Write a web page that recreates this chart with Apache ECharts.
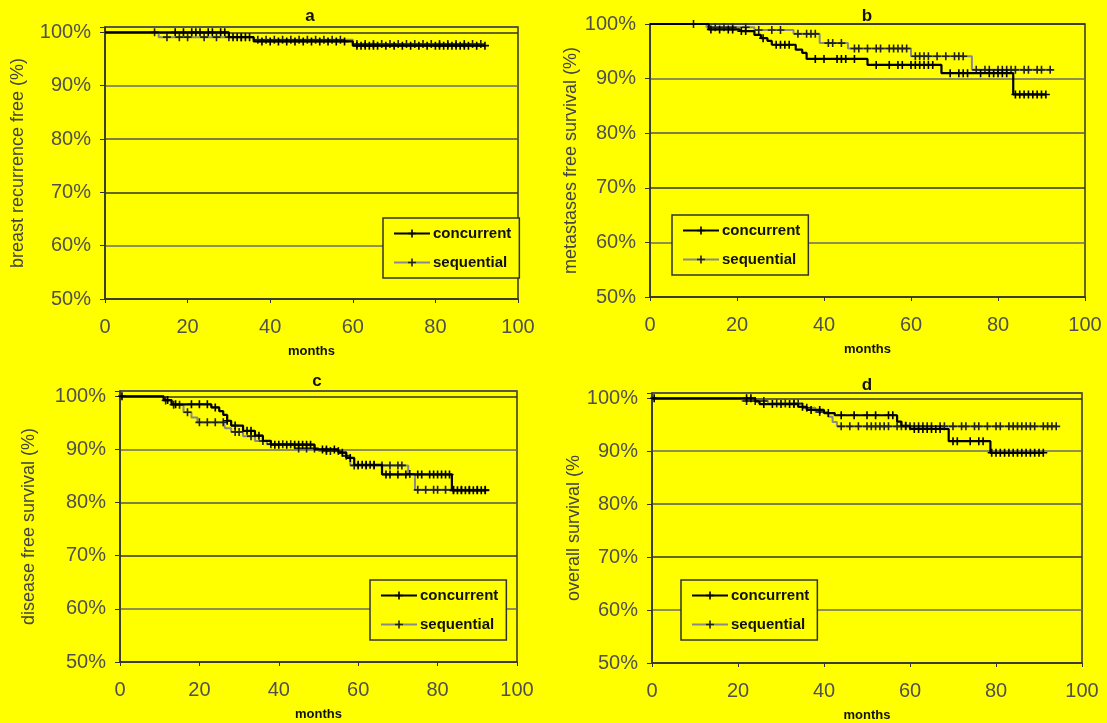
<!DOCTYPE html>
<html>
<head>
<meta charset="utf-8">
<script src="https://cdn.jsdelivr.net/npm/echarts@6/dist/echarts.min.js"></script>
<style>
  html, body { margin: 0; padding: 0; background: #ffff00; }
  #main { width: 1107px; height: 723px; }
</style>
</head>
<body>
<div id="main"></div>
<script>
// panel titles and axis names
const panelTitles = ['a', 'b', 'c', 'd'];
const yNames = ['breast recurrence free (%)', 'metastases free survival (%)', 'disease free survival (%)', 'overall survival (%'];
const groupNames = ['concurrent', 'sequential'];

// Kaplan-Meier steps: [month, % free] at each event
const aConcSteps = [[0, 100], [30, 99.1], [36, 98.3], [60, 97.5]];
const aConcCensor = [17, 19, 21, 22, 23, 25, 26, 28, 29, 31, 32, 33, 34, 35, 38, 40, 42, 44, 46, 48, 50, 52, 54, 56, 58, 61, 62, 63, 64, 65, 66, 68, 70, 72, 74, 76, 78, 80, 81, 82, 83, 84, 85, 86, 87, 88, 90, 92];
const aSeqSteps = [[0, 100], [13, 99.1], [36, 98.6], [60, 97.8]];
const aSeqCensor = [12, 15, 18, 20, 24, 27, 30, 33, 37, 39, 41, 43, 45, 47, 49, 51, 53, 55, 57, 61, 63, 65, 67, 69, 71, 73, 75, 77, 79, 81, 83, 85, 87, 89, 91];

const bConcSteps = [[0, 100], [13.5, 99.0], [20.5, 98.7], [24, 98.0], [25.5, 97.4], [27, 96.9], [28, 96.2], [33.5, 95.3], [35, 94.7], [36, 93.6], [50, 92.5], [67, 91.0], [83.5, 87.1]];
const bConcCensor = [14, 16, 18, 19, 21, 22, 26, 29, 30, 31, 32, 38, 40, 43, 44, 45, 47, 52, 55, 57, 58, 60, 61, 62, 63, 64, 65, 69, 71, 72, 73, 76, 78, 79, 80, 81, 82, 84, 85, 86, 87, 88, 89, 90, 91];
const bSeqSteps = [[0, 100], [13, 99.4], [24, 98.9], [33, 98.2], [39, 96.5], [45.5, 95.5], [60, 94.1], [74, 91.6]];
const bSeqCensor = [10, 15, 17, 19, 22, 25, 28, 30, 34, 36, 37, 38, 41, 42, 44, 47, 48, 50, 52, 53, 55, 56, 57, 58, 59, 61, 62, 63, 64, 66, 68, 70, 71, 72, 75, 77, 78, 80, 81, 82, 83, 84, 86, 87, 89, 90, 92];

const cConcSteps = [[0, 100], [11, 99.3], [13, 98.5], [23, 97.9], [25, 97.2], [26, 96.5], [27, 95.4], [28, 94.5], [31, 93.5], [34, 92.6], [36, 91.6], [38, 90.9], [49, 90.0], [55, 89.4], [57, 88.4], [59, 87.1], [66, 85.3], [83.6, 82.3]];
const cConcCensor = [0.5, 12, 14, 18, 20, 22, 24, 27, 29, 32, 33, 35, 39, 40, 42, 44, 45, 46, 47, 48, 51, 52, 54, 56, 58, 60, 61, 62, 63, 64, 67, 68, 70, 72, 75, 76, 78, 79, 80, 81, 82, 83, 84, 85, 86, 87, 88, 89, 90, 91, 92];
const cSeqSteps = [[0, 100], [11, 99.2], [13, 98.4], [16, 97.0], [18, 96.0], [19.5, 95.1], [26.5, 94.0], [28, 93.3], [31, 92.5], [34, 91.6], [37, 91.0], [44, 90.2], [50, 89.7], [56, 88.8], [58, 87.0], [72.6, 85.4], [74.3, 82.4]];
const cSeqCensor = [11.5, 13.5, 15, 17, 20, 22, 24, 26, 29, 30, 33, 36, 38, 41, 43, 45, 47, 49, 52, 53, 55, 57, 59, 60, 62, 64, 66, 68, 70, 71, 73, 75, 77, 79, 80, 82, 84, 86, 88, 90, 92];

const dConcSteps = [[0, 100], [24, 99.4], [25, 98.9], [34, 98.4], [36, 97.8], [40, 97.2], [42.5, 96.8], [57, 95.6], [58, 94.8], [60, 94.2], [69, 91.9], [78.7, 89.7]];
const dConcCensor = [0.5, 22, 23, 26, 28, 30, 32, 33, 35, 37, 39, 41, 44, 47, 50, 52, 55, 56, 59, 61, 62, 63, 64, 65, 66, 67, 70, 71, 74, 76, 77, 79, 80, 81, 82, 83, 84, 85, 86, 87, 88, 89, 90, 91];
const dSeqSteps = [[0, 100], [21, 99.5], [27, 99.0], [35, 98.2], [38, 97.4], [41, 96.5], [42, 95.5], [43, 94.7]];
const dSeqCensor = [22, 24, 26, 29, 31, 33, 34, 36, 39, 44, 46, 48, 50, 51, 52, 53, 54, 55, 57, 58, 59, 60, 61, 62, 63, 64, 65, 67, 68, 70, 72, 73, 75, 76, 78, 80, 81, 83, 84, 85, 86, 87, 88, 89, 91, 92, 93, 94];

const panelData = [
  [aConcSteps, aConcCensor, aSeqSteps, aSeqCensor],
  [bConcSteps, bConcCensor, bSeqSteps, bSeqCensor],
  [cConcSteps, cConcCensor, cSeqSteps, cSeqCensor],
  [dConcSteps, dConcCensor, dSeqSteps, dSeqCensor]
];

// layout (px)
const grids = [
  { left: 105, right: 589, top: 27, bottom: 424 },
  { left: 650, right: 22, top: 24, bottom: 426 },
  { left: 120, right: 590, top: 391, bottom: 61 },
  { left: 652, right: 25, top: 393, bottom: 59 }
];
const yMax = [101, 100, 101, 101];
const yNameGap = [78, 70, 82, 50];
const titlePos = [[305, 3], [862, 3], [312, 368], [862, 372]];
const legendPos = [[383, 218], [672, 215], [370, 580], [681, 580]];

const plus = 'path://M4,0H6V4H10V6H6V10H4V6H0V4H4Z';

function kmData(steps, censor) {
  const pts = steps.map(s => ({ value: s, symbol: 'none', ord: 0 }));
  censor.forEach(t => {
    let s = steps[0][1];
    steps.forEach(p => { if (p[0] <= t) s = p[1]; });
    pts.push({ value: [t, s], ord: 1 });
  });
  pts.sort((p, q) => p.value[0] - q.value[0] || p.ord - q.ord);
  return pts.map(p => p.symbol ? { value: p.value, symbol: p.symbol } : { value: p.value });
}

const grid = grids.map(g => Object.assign({
  show: true, backgroundColor: '#ffff00', borderColor: '#333', borderWidth: 1.5
}, g));

const xAxis = grids.map((g, i) => ({
  type: 'value', gridIndex: i, min: 0, max: 100, interval: 20,
  name: 'months', nameLocation: 'middle', nameGap: 46,
  nameTextStyle: { fontFamily: 'Liberation Sans', fontWeight: 'bold', fontSize: 13, color: '#111' },
  axisLine: { show: true, lineStyle: { color: '#333', width: 1.5 } },
  axisTick: { show: true, length: 4, lineStyle: { color: '#333' } },
  axisLabel: { margin: 18, fontFamily: 'Liberation Sans', fontSize: 20, color: '#505050' },
  splitLine: { show: false }
}));

const yAxis = grids.map((g, i) => ({
  type: 'value', gridIndex: i, min: 50, max: yMax[i], interval: 10,
  name: yNames[i], nameLocation: 'middle', nameGap: yNameGap[i], nameRotate: 90,
  nameTextStyle: { fontFamily: 'Liberation Sans', fontSize: 18, color: '#444' },
  axisLine: { show: true, lineStyle: { color: '#333', width: 1.5 } },
  axisTick: { show: true, length: 5, lineStyle: { color: '#333' } },
  axisLabel: {
    margin: 14, fontFamily: 'Liberation Sans', fontSize: 20, color: '#505050',
    formatter: v => (v % 10 === 0 ? v + '%' : '')
  },
  splitLine: { show: true, lineStyle: { color: ['#555', '#6a6a6a', '#333'], width: 1.5 } }
}));

const series = [];
panelData.forEach((d, i) => {
  series.push({
    name: 'sequential', type: 'line', xAxisIndex: i, yAxisIndex: i, step: 'end',
    data: kmData(d[2], d[3]), symbol: plus, symbolSize: 8, showSymbol: true,
    lineStyle: { color: '#8a8a8a', width: 2 }, itemStyle: { color: '#222' }, z: 2
  });
  series.push({
    name: 'concurrent', type: 'line', xAxisIndex: i, yAxisIndex: i, step: 'end',
    data: kmData(d[0], d[1]), symbol: plus, symbolSize: 8, showSymbol: true,
    lineStyle: { color: '#000', width: 2.2 }, itemStyle: { color: '#000' }, z: 3
  });
});

const option = {
  backgroundColor: '#ffff00',
  animation: false,
  title: panelTitles.map((t, i) => ({
    text: t, left: titlePos[i][0], top: titlePos[i][1], textAlign: 'center',
    textStyle: { fontFamily: 'Liberation Sans', fontWeight: 'bold', fontSize: 17, color: '#111' }
  })),
  legend: legendPos.map(p => ({
    data: groupNames, orient: 'vertical', left: p[0], top: p[1],
    backgroundColor: '#ffff00', borderColor: '#333', borderWidth: 1.5,
    padding: [8, 8, 8, 10], itemGap: 14, itemWidth: 36, itemHeight: 10,
    textStyle: { fontFamily: 'Liberation Sans', fontWeight: 'bold', fontSize: 15, color: '#111', padding: [0, 0, 0, -2] }
  })),
  grid: grid,
  xAxis: xAxis,
  yAxis: yAxis,
  series: series
};

const myChart = echarts.init(document.getElementById('main'));
myChart.setOption(option);
</script>
</body>
</html>
